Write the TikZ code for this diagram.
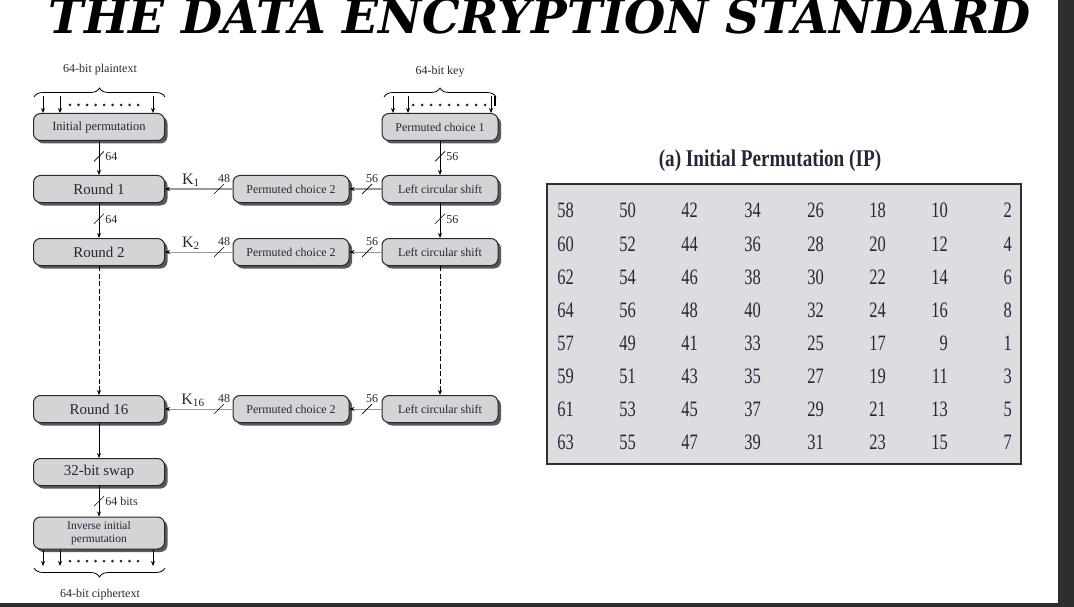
\documentclass[tikz,border=0pt]{standalone}
\usepackage{fontspec}
\usepackage{graphicx}
\setmainfont{Liberation Serif}
\newfontfamily\titlefont{DejaVu Serif}
\newfontfamily\condfont[FakeStretch=0.75]{Liberation Serif}
\newfontfamily\capfont[FakeStretch=0.8]{Liberation Serif}
\usetikzlibrary{arrows.meta,shadows,decorations.pathreplacing,calc}
\definecolor{inkc}{RGB}{38,38,56}
\definecolor{boxc}{RGB}{212,212,214}
\definecolor{tablec}{RGB}{220,221,224}
\definecolor{framec}{RGB}{46,46,46}
\tikzset{
  blk/.style={draw=inkc, line width=1pt, fill=boxc, rounded corners=7pt, text=inkc, minimum height=27pt, align=center,
    drop shadow={shadow xshift=3pt, shadow yshift=-3pt, fill=black!65, opacity=1}},
  wide/.style={blk, minimum width=131pt, font=\fontsize{15}{17}\selectfont},
  key/.style={blk, minimum width=116pt, font=\fontsize{12}{14}\selectfont},
  lbl/.style={text=inkc, font=\fontsize{12}{14}\selectfont, inner sep=1pt},
  klbl/.style={text=inkc, font=\fontsize{16}{18}\selectfont, inner sep=0pt, anchor=base},
  arr/.style={-{Stealth[length=5pt,width=4pt]}, line width=0.8pt},
  garr/.style={-{Stealth[length=5pt,width=4pt,color=black]}, line width=1pt, draw=black!40},
  gap/.style={dash pattern=on 5pt off 2.5pt},
  brc/.style={decorate, decoration={brace, amplitude=9pt}, line width=0.8pt},
  num/.style={font=\condfont\fontsize{22}{24}\selectfont, text=inkc, anchor=base east, inner sep=0pt},
}
% bus width marks
\newcommand{\busv}[2]{\draw[line width=0.7pt] (#1) ++(-5,5) -- ++(10,-10) node[lbl, anchor=north west] {#2};}
\newcommand{\bush}[2]{\draw[line width=0.7pt] (#1) ++(-5,5) -- ++(10,-10) node[lbl, anchor=south] {#2};}
\begin{document}
\begin{tikzpicture}[x=1pt, y=-1pt]
  \useasboundingbox (0,0) rectangle (1074,607);
  \clip (0,0) rectangle (1074,607);
  \fill[framec] (1058,0) rectangle (1074,607);
  \fill[framec] (0,603) rectangle (1058,607);

  \node[anchor=base, inner sep=0pt] (title) at (540,34)
    {\resizebox{982pt}{!}{\titlefont\bfseries\itshape THE DATA ENCRYPTION STANDARD}};

  % left column
  \node[lbl, anchor=base] (plain) at (100,73) {64-bit plaintext};
  \node[wide, font=\fontsize{12.5}{14}\selectfont] (ip) at (99,127) {Initial permutation};
  \node[wide] (r1) at (99,189) {Round 1};
  \node[wide] (r2) at (99,252) {Round 2};
  \node[wide] (r16) at (99,409) {Round 16};
  \node[wide] (swap) at (99,472) {32-bit swap};
  \node[wide, minimum height=32pt, font=\fontsize{11.5}{12.5}\selectfont] (inv) at (99,533) {Inverse initial\\permutation};
  \node[lbl, anchor=base] (cipher) at (100,597) {64-bit ciphertext};

  % key schedule
  \node[lbl, anchor=base] (keyin) at (440,75) {64-bit key};
  \node[key] (pc1) at (440,127) {Permuted choice 1};
  \node[key] (ls1) at (440,189) {Left circular shift};
  \node[key] (ls2) at (440,252) {Left circular shift};
  \node[key] (ls16) at (440,409) {Left circular shift};
  \node[key] (pc21) at (291,189) {Permuted choice 2};
  \node[key] (pc22) at (291,252) {Permuted choice 2};
  \node[key] (pc216) at (291,409) {Permuted choice 2};

  % input and output bits
  \draw[brc] (34,97) -- (165,97);
  \draw[brc] (384,97) -- (496,97);
  \draw[brc] (165,568) -- (34,568);
  \foreach \x in {43,60,153} \draw[arr] (\x,96) -- (\x,0 |- ip.north);
  \foreach \x in {393,408,491} \draw[arr] (\x,96) -- (\x,0 |- pc1.north);
  \foreach \x in {43,60,153} \draw[arr] (\x,0 |- inv.south) -- (\x,566);
  \draw[line width=1.5pt] (495,96) -- (495,106);
  \foreach \x in {70,78.5,...,139} \fill[inkc] (\x,105) circle (1.5pt);
  \foreach \x in {413,422,...,486} \fill[inkc] (\x,105) circle (1.5pt);
  \foreach \x in {70,78.5,...,139} \fill[inkc] (\x,561) circle (1.5pt);

  % data path
  \draw[arr] (ip.south) -- (r1.north);
  \draw[arr] (r1.south) -- (r2.north);
  \draw[arr, gap] (r2.south) -- (r16.north);
  \draw[arr] (r16.south) -- (swap.north);
  \draw[arr] (swap.south) -- (inv.north);
  \busv{$(ip.south)!0.45!(r1.north)$}{64}
  \busv{$(r1.south)!0.45!(r2.north)$}{64}
  \busv{$(swap.south)!0.5!(inv.north)$}{64 bits}

  \draw[arr] (pc1.south) -- (ls1.north);
  \draw[arr] (ls1.south) -- (ls2.north);
  \draw[arr, gap] (ls2.south) -- (ls16.north);
  \busv{$(pc1.south)!0.45!(ls1.north)$}{56}
  \busv{$(ls1.south)!0.45!(ls2.north)$}{56}

  % subkeys
  \draw[garr] (ls1.west) -- (pc21.east);
  \draw[garr] (ls2.west) -- (pc22.east);
  \draw[garr] (ls16.west) -- (pc216.east);
  \draw[garr] (pc21.west) -- (r1.east);
  \draw[garr] (pc22.west) -- (r2.east);
  \draw[garr] (pc216.west) -- (r16.east);
  \bush{$(ls1.west)!0.45!(pc21.east)$}{56}
  \bush{$(ls2.west)!0.45!(pc22.east)$}{56}
  \bush{$(ls16.west)!0.45!(pc216.east)$}{56}
  \bush{$(pc21.west)!0.2!(r1.east)$}{48}
  \bush{$(pc22.west)!0.2!(r2.east)$}{48}
  \bush{$(pc216.west)!0.2!(r16.east)$}{48}
  \node[klbl] (k1) at (191,184) {K\textsubscript{1}};
  \node[klbl] (k2) at (191,247) {K\textsubscript{2}};
  \node[klbl] (k16) at (193,404) {K\textsubscript{16}};

  % table
  \node[text=inkc, font=\capfont\bfseries\fontsize{24}{26}\selectfont, anchor=base] (cap) at (770,167) {(a) Initial Permutation (IP)};
  \node[draw=framec, line width=2.5pt, fill=tablec, minimum width=474pt, minimum height=280pt, inner sep=0pt] (tbl) at (784,324) {};
  \foreach \row [count=\r] in {{58,50,42,34,26,18,10,2},{60,52,44,36,28,20,12,4},{62,54,46,38,30,22,14,6},{64,56,48,40,32,24,16,8},
      {57,49,41,33,25,17,9,1},{59,51,43,35,27,19,11,3},{61,53,45,37,29,21,13,5},{63,55,47,39,31,23,15,7}}
    \foreach \v [count=\c] in \row {
      \pgfmathsetmacro{\cx}{{574,636,698,761,824,886,948,1012}[\c-1]}
      \node[num] (n\r\c) at (\cx, {218+33*(\r-1)}) {\v};
    }
\end{tikzpicture}
\end{document}
